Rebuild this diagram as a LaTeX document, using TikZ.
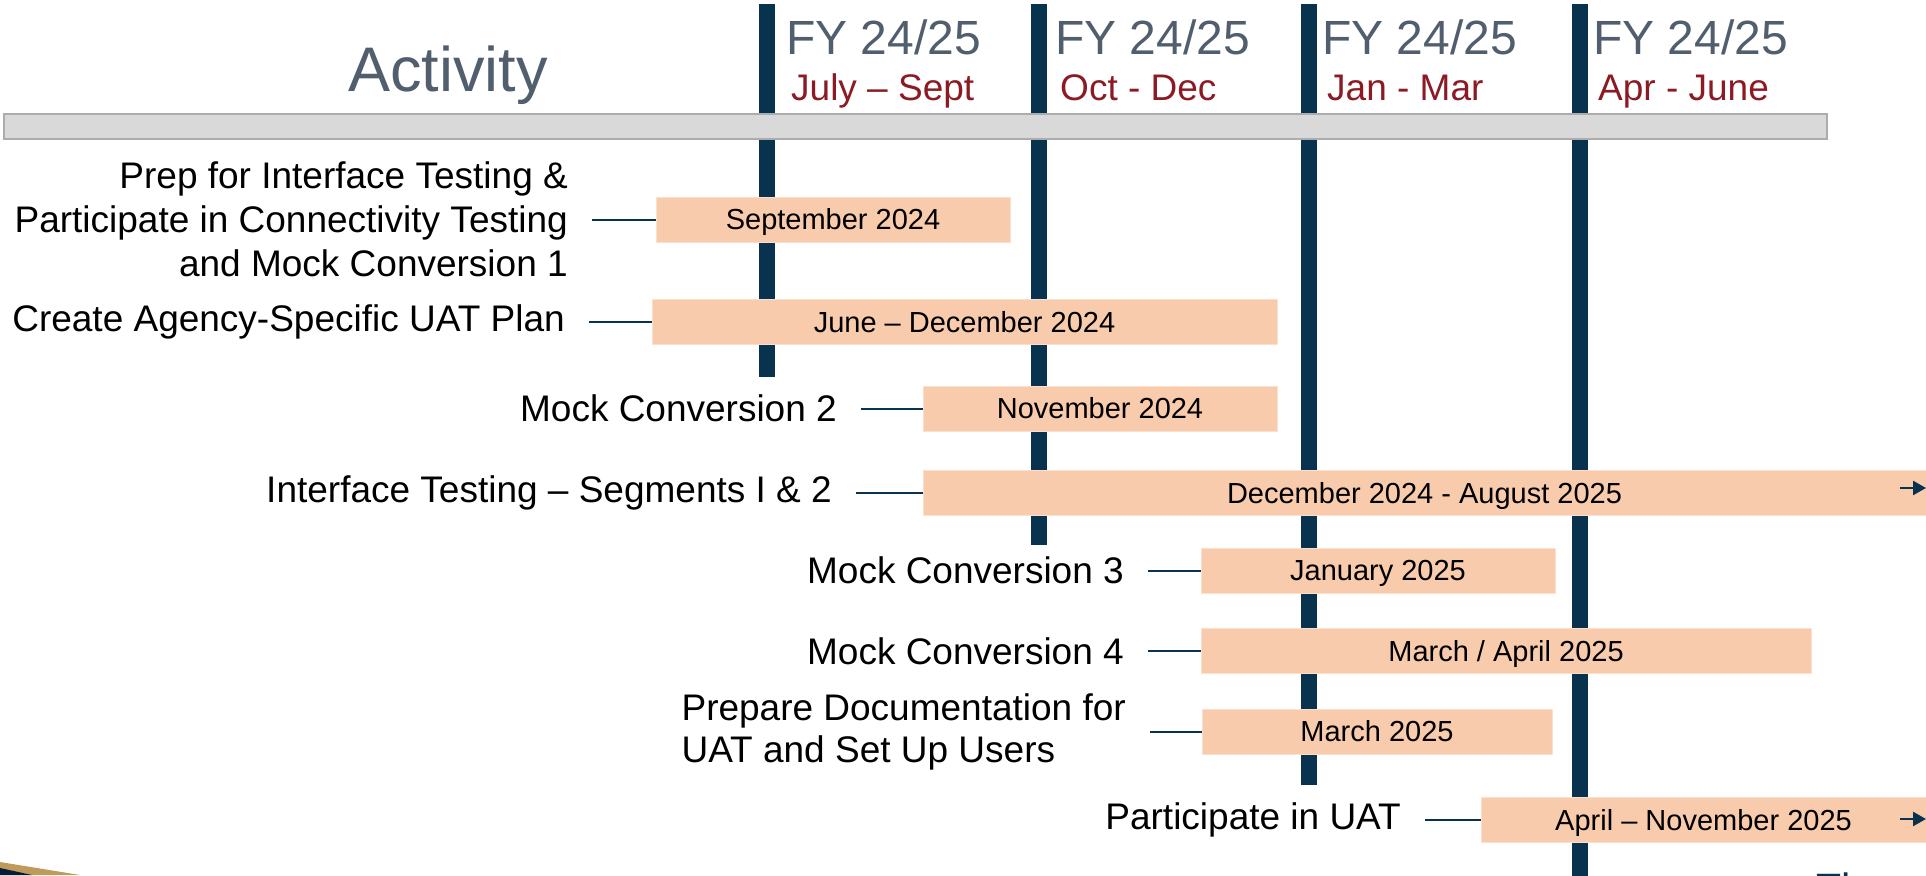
\documentclass[tikz,border=0pt]{standalone}
\usepackage{fontspec}
\setmainfont{Liberation Sans}
\usetikzlibrary{arrows.meta}

\definecolor{navy}{RGB}{8,50,78}
\definecolor{slate}{RGB}{80,94,110}
\definecolor{fyred}{RGB}{140,26,36}
\definecolor{peach}{RGB}{248,203,173}
\definecolor{bandgray}{RGB}{217,217,217}
\definecolor{bandedge}{RGB}{172,172,172}
\definecolor{gold}{RGB}{192,154,91}
\definecolor{deepnavy}{RGB}{8,28,56}

\tikzset{
  qline/.style={draw=navy, line width=16pt},
  bar/.style={fill=peach, draw=peach!60!white, line width=1pt, minimum height=45pt,
    inner sep=0pt, text height=20.8pt, text depth=0pt, font=\fontsize{29}{34}\selectfont},
  act/.style={anchor=east, inner xsep=24pt, inner ysep=0pt, font=\fontsize{37}{44}\selectfont},
  link/.style={draw=navy, line width=2pt},
  fy/.style={anchor=base west, inner sep=0pt, text=slate, font=\fontsize{48}{56}\selectfont},
  qtr/.style={anchor=base west, inner sep=0pt, text=fyred, font=\fontsize{37}{44}\selectfont},
  more/.style={draw=navy, line width=2.5pt, -{Triangle[length=13pt,width=14pt]}}
}

\begin{document}
\begin{tikzpicture}[x=1pt,y=-1pt]
\useasboundingbox (0,0) rectangle (1926,875);
\clip (0,0) rectangle (1926,875);

% quarter lines
\draw[qline] (767,4) -- (767,377);
\draw[qline] (1039,4) -- (1039,545);
\draw[qline] (1309,4) -- (1309,785);
\draw[qline] (1580,4) -- (1580,880);

% header
\node[anchor=base, inner sep=0pt, text=slate, font=\fontsize{63}{70}\selectfont] (activity) at (448,92) {Activity};
\node[fy] (fy1) at (786,55) {FY 24/25};
\node[fy] (fy2) at (1055,55) {FY 24/25};
\node[fy] (fy3) at (1322,55) {FY 24/25};
\node[fy] (fy4) at (1593,55) {FY 24/25};
\node[qtr] (q1) at (791,100) {July -- Sept};
\node[qtr] (q2) at (1060,100) {Oct - Dec};
\node[qtr] (q3) at (1327,100) {Jan - Mar};
\node[qtr] (q4) at (1598,100) {Apr - June};
\filldraw[fill=bandgray, draw=bandedge, line width=1.5pt] (4,114) rectangle (1827,139);

% bars
\node[bar, minimum width=354pt] (b1) at (833,219.5) {September 2024};
\node[bar, minimum width=625pt] (b2) at (964.5,322) {June -- December 2024};
\node[bar, minimum width=354pt] (b3) at (1100,408.5) {November 2024};
\node[bar, minimum width=1003pt] (b4) at (1424.5,493) {December 2024 - August 2025};
\node[bar, minimum width=354pt] (b5) at (1378,570.5) {January 2025};
\node[bar, minimum width=610pt] (b6) at (1506,651) {March / April 2025};
\node[bar, minimum width=350pt] (b7) at (1377,731.5) {March 2025};
\node[bar, minimum width=445pt] (b8) at (1703.5,820) {April -- November 2025};

% activities
\node[act, align=right] (l1) at (592,219.5) {Prep for Interface Testing \&\\Participate in Connectivity Testing\\and Mock Conversion 1};
\node[act] (l2) at (589,322) {Create Agency-Specific UAT Plan};
\node[act] (l3) at (861,408.5) {Mock Conversion 2};
\node[act] (l4) at (856,493) {Interface Testing -- Segments I \& 2};
\node[act] (l5) at (1148,570.5) {Mock Conversion 3};
\node[act] (l6) at (1148,651) {Mock Conversion 4};
\node[act, align=left, font=\fontsize{37}{42}\selectfont] (l7) at (1150,731.5) {Prepare Documentation for\\UAT and Set Up Users};
\node[act] (l8) at (1425,820) {Participate in UAT};

\draw[link] (l1.east) -- (b1.west);
\draw[link] (l2.east) -- (b2.west);
\draw[link] (l3.east) -- (b3.west);
\draw[link] (l4.east) -- (b4.west);
\draw[link] (l5.east) -- (b5.west);
\draw[link] (l6.east) -- (b6.west);
\draw[link] (l7.east) -- (b7.west);
\draw[link] (l8.east) -- (b8.west);

% continues past the chart
\coordinate (m4) at (1900,488);
\coordinate (e4) at (1926,488);
\coordinate (m8) at (1900,819);
\coordinate (e8) at (1926,819);
\draw[more] (m4) -- (e4);
\draw[more] (m8) -- (e8);

% footer pieces
\fill[gold] (0,862) -- (80,875) -- (0,875) -- cycle;
\fill[deepnavy] (0,868) -- (32,875) -- (0,875) -- cycle;
\node[anchor=north west, inner sep=0pt, text=navy, font=\fontsize{41}{48}\selectfont] (foot) at (1816,873) {The};
\end{tikzpicture}
\end{document}
